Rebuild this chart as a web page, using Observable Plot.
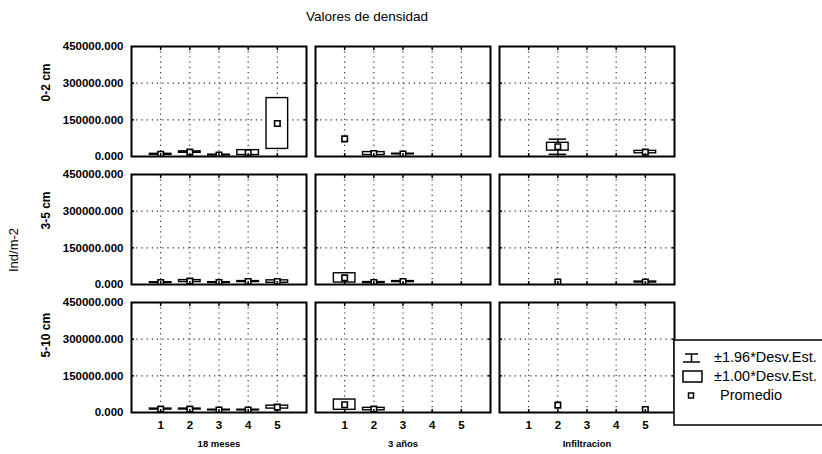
<!DOCTYPE html>
<html><head><meta charset="utf-8">
<script src="https://cdn.jsdelivr.net/npm/d3@7"></script>
<script src="https://cdn.jsdelivr.net/npm/@observablehq/plot@0.6"></script>
<style>
body{margin:0;background:#fff;}
#chart{width:822px;height:454px;overflow:hidden;}
svg{font-family:"Liberation Sans",Arial,sans-serif;}
</style>
</head><body><div id="chart"></div>
<script>
const rows = ["0-2 cm","3-5 cm","5-10 cm"];
const cols = ["18 meses","3 años","Infiltracion"];
const groups = [1,2,3,4,5];
const yTicks = [0,150000,300000,450000];
const gridYTicks = [150000,300000];

// mean and standard deviation per panel (null = no value)
const mean_02_18m = [9000, 18000, 6000, 16000, 135000];
const sd_02_18m   = [2000, 3000, 1500, 10000, 104000];
const mean_02_3a  = [72000, 12000, 10000, null, null];
const sd_02_3a    = [null, 6000, 1500, null, null];
const mean_02_inf = [null, 40000, null, null, 18000];
const sd_02_inf   = [null, 16000, null, null, 5000];
const whisk_02_inf = [null, 31000, null, null, null];

const mean_35_18m = [8000, 14000, 8000, 12000, 12000];
const sd_35_18m   = [1500, 4000, 1500, 2000, 5000];
const mean_35_3a  = [27000, 8000, 12000, null, null];
const sd_35_3a    = [19000, 2000, 2000, null, null];
const mean_35_inf = [null, 10000, null, null, 10000];
const sd_35_inf   = [null, null, null, null, 2000];

const mean_510_18m = [14000, 14000, 10000, 10000, 22000];
const sd_510_18m   = [2000, 2000, 1500, 1500, 6000];
const mean_510_3a  = [32000, 14000, null, null, null];
const sd_510_3a    = [21000, 5000, null, null, null];
const mean_510_inf = [null, 30000, null, null, 12000];
const sd_510_inf   = [null, null, null, null, null];

const panelList = [
  [rows[0], cols[0], mean_02_18m, sd_02_18m, null],
  [rows[0], cols[1], mean_02_3a, sd_02_3a, null],
  [rows[0], cols[2], mean_02_inf, sd_02_inf, whisk_02_inf],
  [rows[1], cols[0], mean_35_18m, sd_35_18m, null],
  [rows[1], cols[1], mean_35_3a, sd_35_3a, null],
  [rows[1], cols[2], mean_35_inf, sd_35_inf, null],
  [rows[2], cols[0], mean_510_18m, sd_510_18m, null],
  [rows[2], cols[1], mean_510_3a, sd_510_3a, null],
  [rows[2], cols[2], mean_510_inf, sd_510_inf, null]
];
const data = panelList.flatMap(([row, col, m, s, w]) =>
  groups.map((g, i) => ({row, col, x: g, mean: m[i], sd: s[i], wh: w ? w[i] : null}))
).filter(d => d.mean != null);

const boxHalf = 0.37, capHalf = 0.3;
const dotted = {stroke: "#000", strokeOpacity: 0.85, strokeWidth: 1.1, strokeDasharray: "1.2,4"};

const plot = Plot.plot({
  width: 822, height: 454,
  marginLeft: 130, marginRight: 147, marginTop: 46, marginBottom: 41,
  fx: {domain: cols, paddingInner: 0.0486, paddingOuter: 0, axis: null, label: null},
  fy: {domain: rows, paddingInner: 0.14, paddingOuter: 0, axis: null, label: null},
  x: {domain: [0, 6], axis: null},
  y: {domain: [0, 450000], axis: null},
  marks: [
    Plot.gridX(groups, dotted),
    Plot.gridY(gridYTicks, dotted),
    // whiskers (±1.96 SD)
    Plot.ruleX(data.filter(d => d.wh != null), {fx: "col", fy: "row", x: "x", y1: d => d.mean - d.wh, y2: d => d.mean + d.wh, stroke: "#000", strokeWidth: 1.3, clip: true}),
    Plot.ruleY(data.filter(d => d.wh != null), {fx: "col", fy: "row", x1: d => d.x - capHalf, x2: d => d.x + capHalf, y: d => d.mean + d.wh, stroke: "#000", strokeWidth: 1.5, clip: true}),
    Plot.ruleY(data.filter(d => d.wh != null), {fx: "col", fy: "row", x1: d => d.x - capHalf, x2: d => d.x + capHalf, y: d => d.mean - d.wh, stroke: "#000", strokeWidth: 1.5, clip: true}),
    // boxes (±1 SD)
    Plot.rect(data.filter(d => d.sd != null), {fx: "col", fy: "row", x1: d => d.x - boxHalf, x2: d => d.x + boxHalf, y1: d => d.mean - d.sd, y2: d => d.mean + d.sd, fill: "#fff", stroke: "#000", strokeWidth: 1.4, clip: true}),
    // means
    Plot.dot(data, {fx: "col", fy: "row", x: "x", y: "mean", symbol: "square", r: 3.1, fill: "#fff", stroke: "#000", strokeWidth: 1.6, clip: true}),
    Plot.frame({stroke: "#000", strokeWidth: 2}),
    // inward tick marks
    Plot.axisX(groups, {anchor: "bottom", facetAnchor: null, tickSize: -3, text: null, label: null, strokeWidth: 1.5}),
    Plot.axisX(groups, {anchor: "top", facetAnchor: null, tickSize: -3, text: null, label: null, strokeWidth: 1.5}),
    Plot.axisY(gridYTicks, {anchor: "left", facetAnchor: null, tickSize: -3, text: null, label: null, strokeWidth: 1.5}),
    Plot.axisY(gridYTicks, {anchor: "right", facetAnchor: null, tickSize: -3, text: null, label: null, strokeWidth: 1.5}),
    // tick labels
    Plot.axisY(yTicks, {anchor: "left", facetAnchor: "left", tickSize: 0, tickPadding: 8, label: null, tickFormat: d => d.toFixed(3), fontSize: 11.5, fontWeight: "bold", fill: "#000"}),
    Plot.axisX(groups, {anchor: "bottom", facetAnchor: "bottom", tickSize: 0, tickPadding: 8, label: null, fontSize: 11.5, fontWeight: "bold", fill: "#000"}),
    // row labels
    Plot.text(rows.map(r => ({row: r, col: cols[0]})), {fx: "col", fy: "row", text: "row", frameAnchor: "left", dx: -85, rotate: -90, fontSize: 12, fontWeight: "bold", fill: "#000"}),
    // column labels
    Plot.text(cols.map(c => ({col: c, row: rows[2]})), {fx: "col", fy: "row", text: "col", frameAnchor: "bottom", dy: 34, fontSize: 9.5, fontWeight: "bold", fill: "#000"})
  ]
});

document.getElementById("chart").appendChild(plot);
const svg = d3.select(plot);
svg.append("text").attr("x", 367).attr("y", 17).attr("text-anchor", "middle").attr("dominant-baseline", "middle")
  .attr("font-size", 13.5).attr("fill", "#000").text("Valores de densidad");
svg.append("text").attr("transform", "translate(15,250) rotate(-90)").attr("text-anchor", "middle").attr("dominant-baseline", "middle")
  .attr("font-size", 13).attr("fill", "#000").text("Ind/m-2");

const lg = svg.append("g");
lg.append("rect").attr("x", 674).attr("y", 340).attr("width", 160).attr("height", 85).attr("fill", "#fff").attr("stroke", "#000").attr("stroke-width", 1.5);
// whisker icon
lg.append("line").attr("x1", 685).attr("x2", 698).attr("y1", 354).attr("y2", 354).attr("stroke", "#000").attr("stroke-width", 1.5);
lg.append("line").attr("x1", 691.5).attr("x2", 691.5).attr("y1", 354).attr("y2", 362).attr("stroke", "#000").attr("stroke-width", 1.5);
lg.append("line").attr("x1", 683).attr("x2", 700).attr("y1", 362).attr("y2", 362).attr("stroke", "#000").attr("stroke-width", 1.5);
// box icon
lg.append("rect").attr("x", 683).attr("y", 371).attr("width", 19).attr("height", 11).attr("fill", "#fff").attr("stroke", "#000").attr("stroke-width", 1.5);
// mean icon
lg.append("rect").attr("x", 688.5).attr("y", 393).attr("width", 5).attr("height", 5).attr("fill", "#fff").attr("stroke", "#000").attr("stroke-width", 1.5);
const legendItems = [["±1.96*Desv.Est.", 714, 358], ["±1.00*Desv.Est.", 714, 377], ["Promedio", 720, 396]];
legendItems.forEach(([t, x, y]) => {
  lg.append("text").attr("x", x).attr("y", y).attr("text-anchor", "start").attr("dominant-baseline", "middle").attr("font-size", 14.5).attr("fill", "#000").text(t);
});
</script>
</body></html>
